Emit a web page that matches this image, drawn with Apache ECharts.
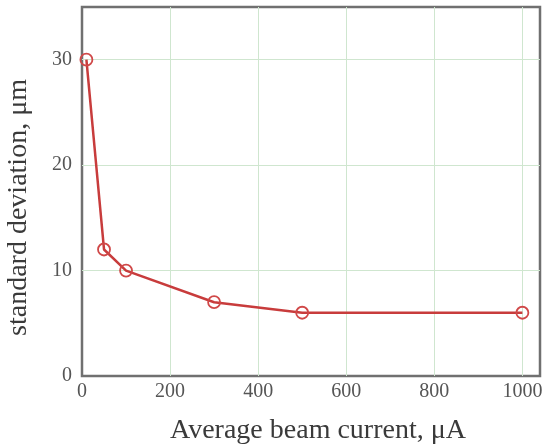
<!DOCTYPE html>
<html>
<head>
<meta charset="utf-8">
<script src="https://cdn.jsdelivr.net/npm/echarts@6/dist/echarts.min.js"></script>
<style>
  html, body { margin: 0; padding: 0; background: #fff; }
  #chart { width: 545px; height: 447px; }
</style>
</head>
<body>
<div id="chart"></div>
<script>
// beam current (µA) vs standard deviation (µm)
const beamCurrent = [10, 50, 100, 300, 500, 1000]
const stdDev = [30, 12, 10, 7, 6, 6]
const xTicks = [0, 200, 400, 600, 800, 1000]
const yTicks = [0, 10, 20, 30]

const chart = echarts.init(document.getElementById('chart'))
const serif = 'Liberation Serif'

chart.setOption({
  animation: false,
  grid: {
    left: 82, right: 5, top: 7, bottom: 71,
    outerBoundsMode: 'none',
    show: true,
    borderColor: '#707070',
    borderWidth: 2.5
  },
  xAxis: {
    type: 'value',
    min: 0,
    max: 1040,
    interval: 200,
    name: 'Average beam current, μA',
    nameLocation: 'middle',
    nameGap: 41,
    nameTextStyle: { fontFamily: serif, fontSize: 28, color: '#3a3a3a', padding: [0, 0, 0, 14] },
    axisLine: { show: false },
    axisTick: { show: false },
    axisLabel: {
      fontFamily: serif, fontSize: 20, color: '#555', margin: 6,
      formatter: v => xTicks.includes(v) ? String(v) : ''
    },
    splitLine: { showMinLine: false, showMaxLine: false, lineStyle: { color: '#cfe6cf', width: 1 } }
  },
  yAxis: {
    type: 'value',
    min: 0,
    max: 35,
    interval: 10,
    name: 'standard deviation, μm',
    nameLocation: 'middle',
    nameGap: 49,
    nameTextStyle: { fontFamily: serif, fontSize: 28, color: '#3a3a3a', padding: [0, 32, 0, 0] },
    axisLine: { show: false },
    axisTick: { show: false },
    axisLabel: {
      fontFamily: serif, fontSize: 20, color: '#555', margin: 10,
      formatter: v => yTicks.includes(v) ? String(v) : ''
    },
    splitLine: { showMinLine: false, showMaxLine: false, lineStyle: { color: '#cfe6cf', width: 1 } }
  },
  series: [{
    type: 'line',
    data: beamCurrent.map((x, i) => [x, stdDev[i]]),
    symbol: 'circle',
    symbolSize: 12,
    showAllSymbol: true,
    lineStyle: { color: '#c83c3c', width: 2.5 },
    itemStyle: { color: 'rgba(255,255,255,0)', borderColor: '#d04848', borderWidth: 1.8 }
  }]
})
</script>
</body>
</html>
